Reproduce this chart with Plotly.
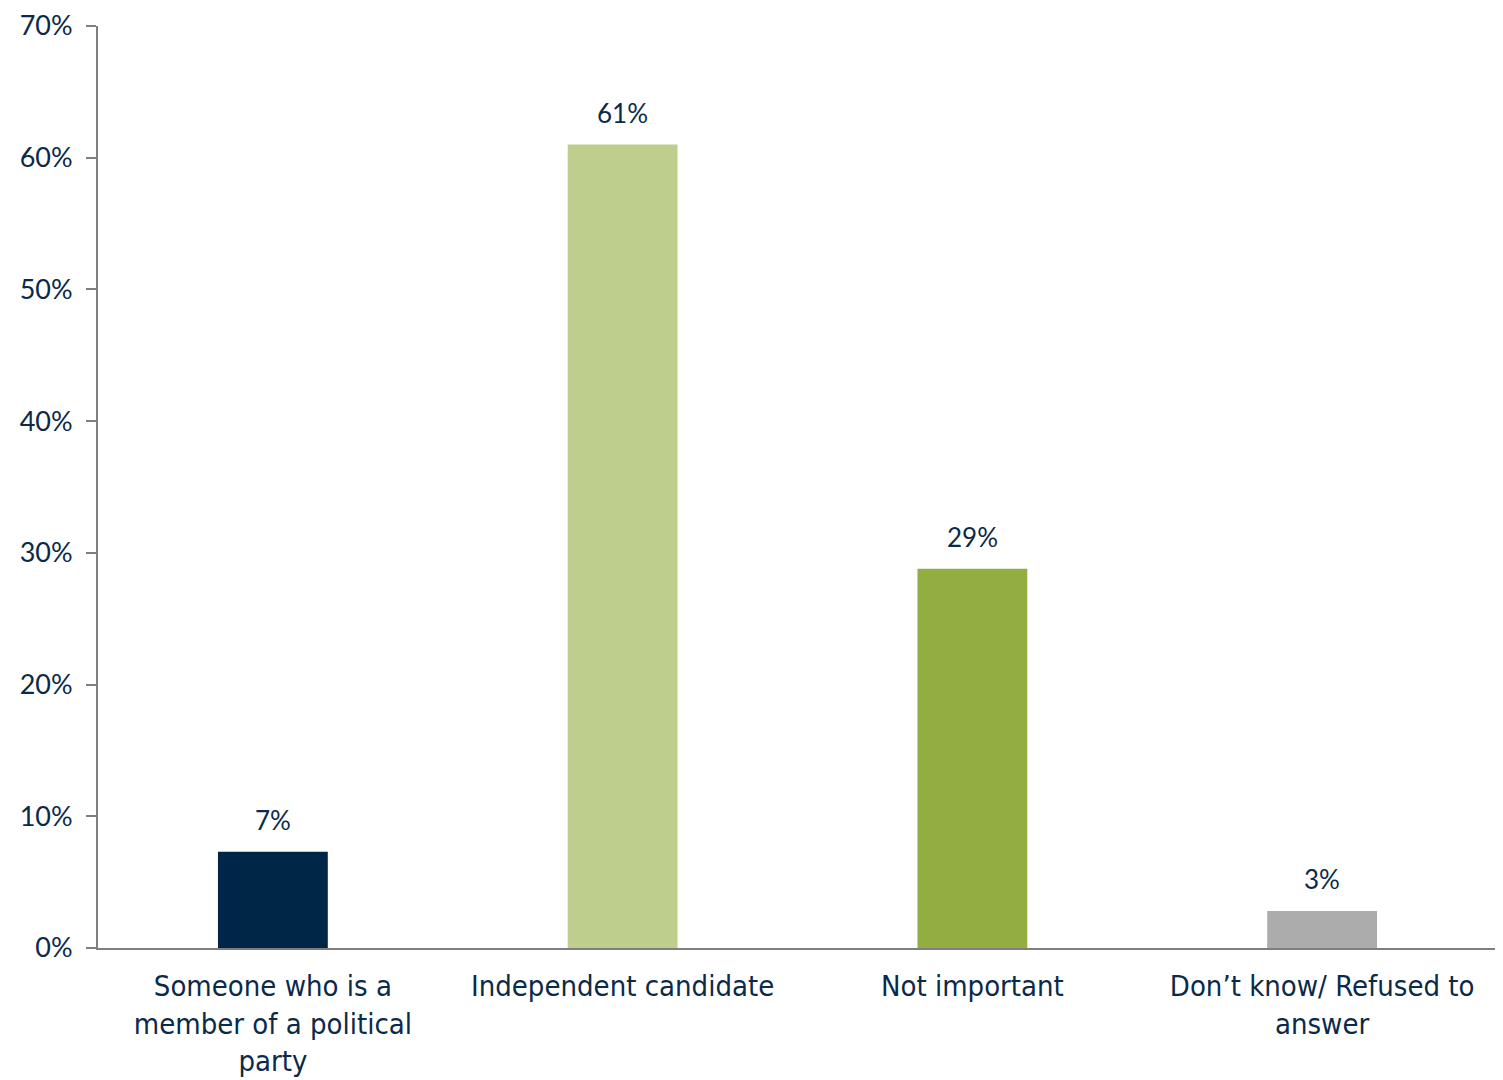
import plotly.graph_objects as go

categories = ["Someone who is a<br>member of a political<br>party", "Independent candidate",
              "Not important", "Don\u2019t know/ Refused to<br>answer"]
values = [7.3, 61.0, 28.8, 2.8]
labels = ["7%", "61%", "29%", "3%"]
colors = ["#002647", "#bdce8d", "#92ae40", "#acacac"]
tick_vals = [0, 10, 20, 30, 40, 50, 60, 70]
tick_text = ["0%", "10%", "20%", "30%", "40%", "50%", "60%", "70%"]

navy = "#0b2a4a"
fig = go.Figure(go.Bar(
    x=categories, y=values, marker_color=colors, marker_line_width=0,
))
for c, v, t in zip(categories, values, labels):
    fig.add_annotation(x=c, y=v, text=t, showarrow=False, yanchor="bottom", yshift=14,
                       font=dict(family="Lato", size=26, color=navy))
fig.update_layout(
    width=1503, height=1080, plot_bgcolor="white", paper_bgcolor="white",
    margin=dict(l=90, r=14, t=18, b=140, autoexpand=False), bargap=0.686, showlegend=False,
    font=dict(family="Lato", color=navy),
)
fig.update_yaxes(range=[0, 70], tickvals=tick_vals, ticktext=tick_text, showgrid=False,
                 showline=True, linecolor="#7f7f7f", linewidth=2, ticks="outside",
                 ticklen=10, tickcolor="#7f7f7f", tickwidth=2, zeroline=False,
                 ticklabelstandoff=8, ticklabeloverflow="allow",
                 tickfont=dict(family="Lato", size=27, color=navy))
fig.update_xaxes(showline=True, linecolor="#7f7f7f", linewidth=2, ticks="",
                 ticklabelstandoff=11, ticklabeloverflow="allow",
                 tickfont=dict(family="DejaVu Sans Condensed, Lato", size=29, color=navy))
fig.write_html("out.html")
